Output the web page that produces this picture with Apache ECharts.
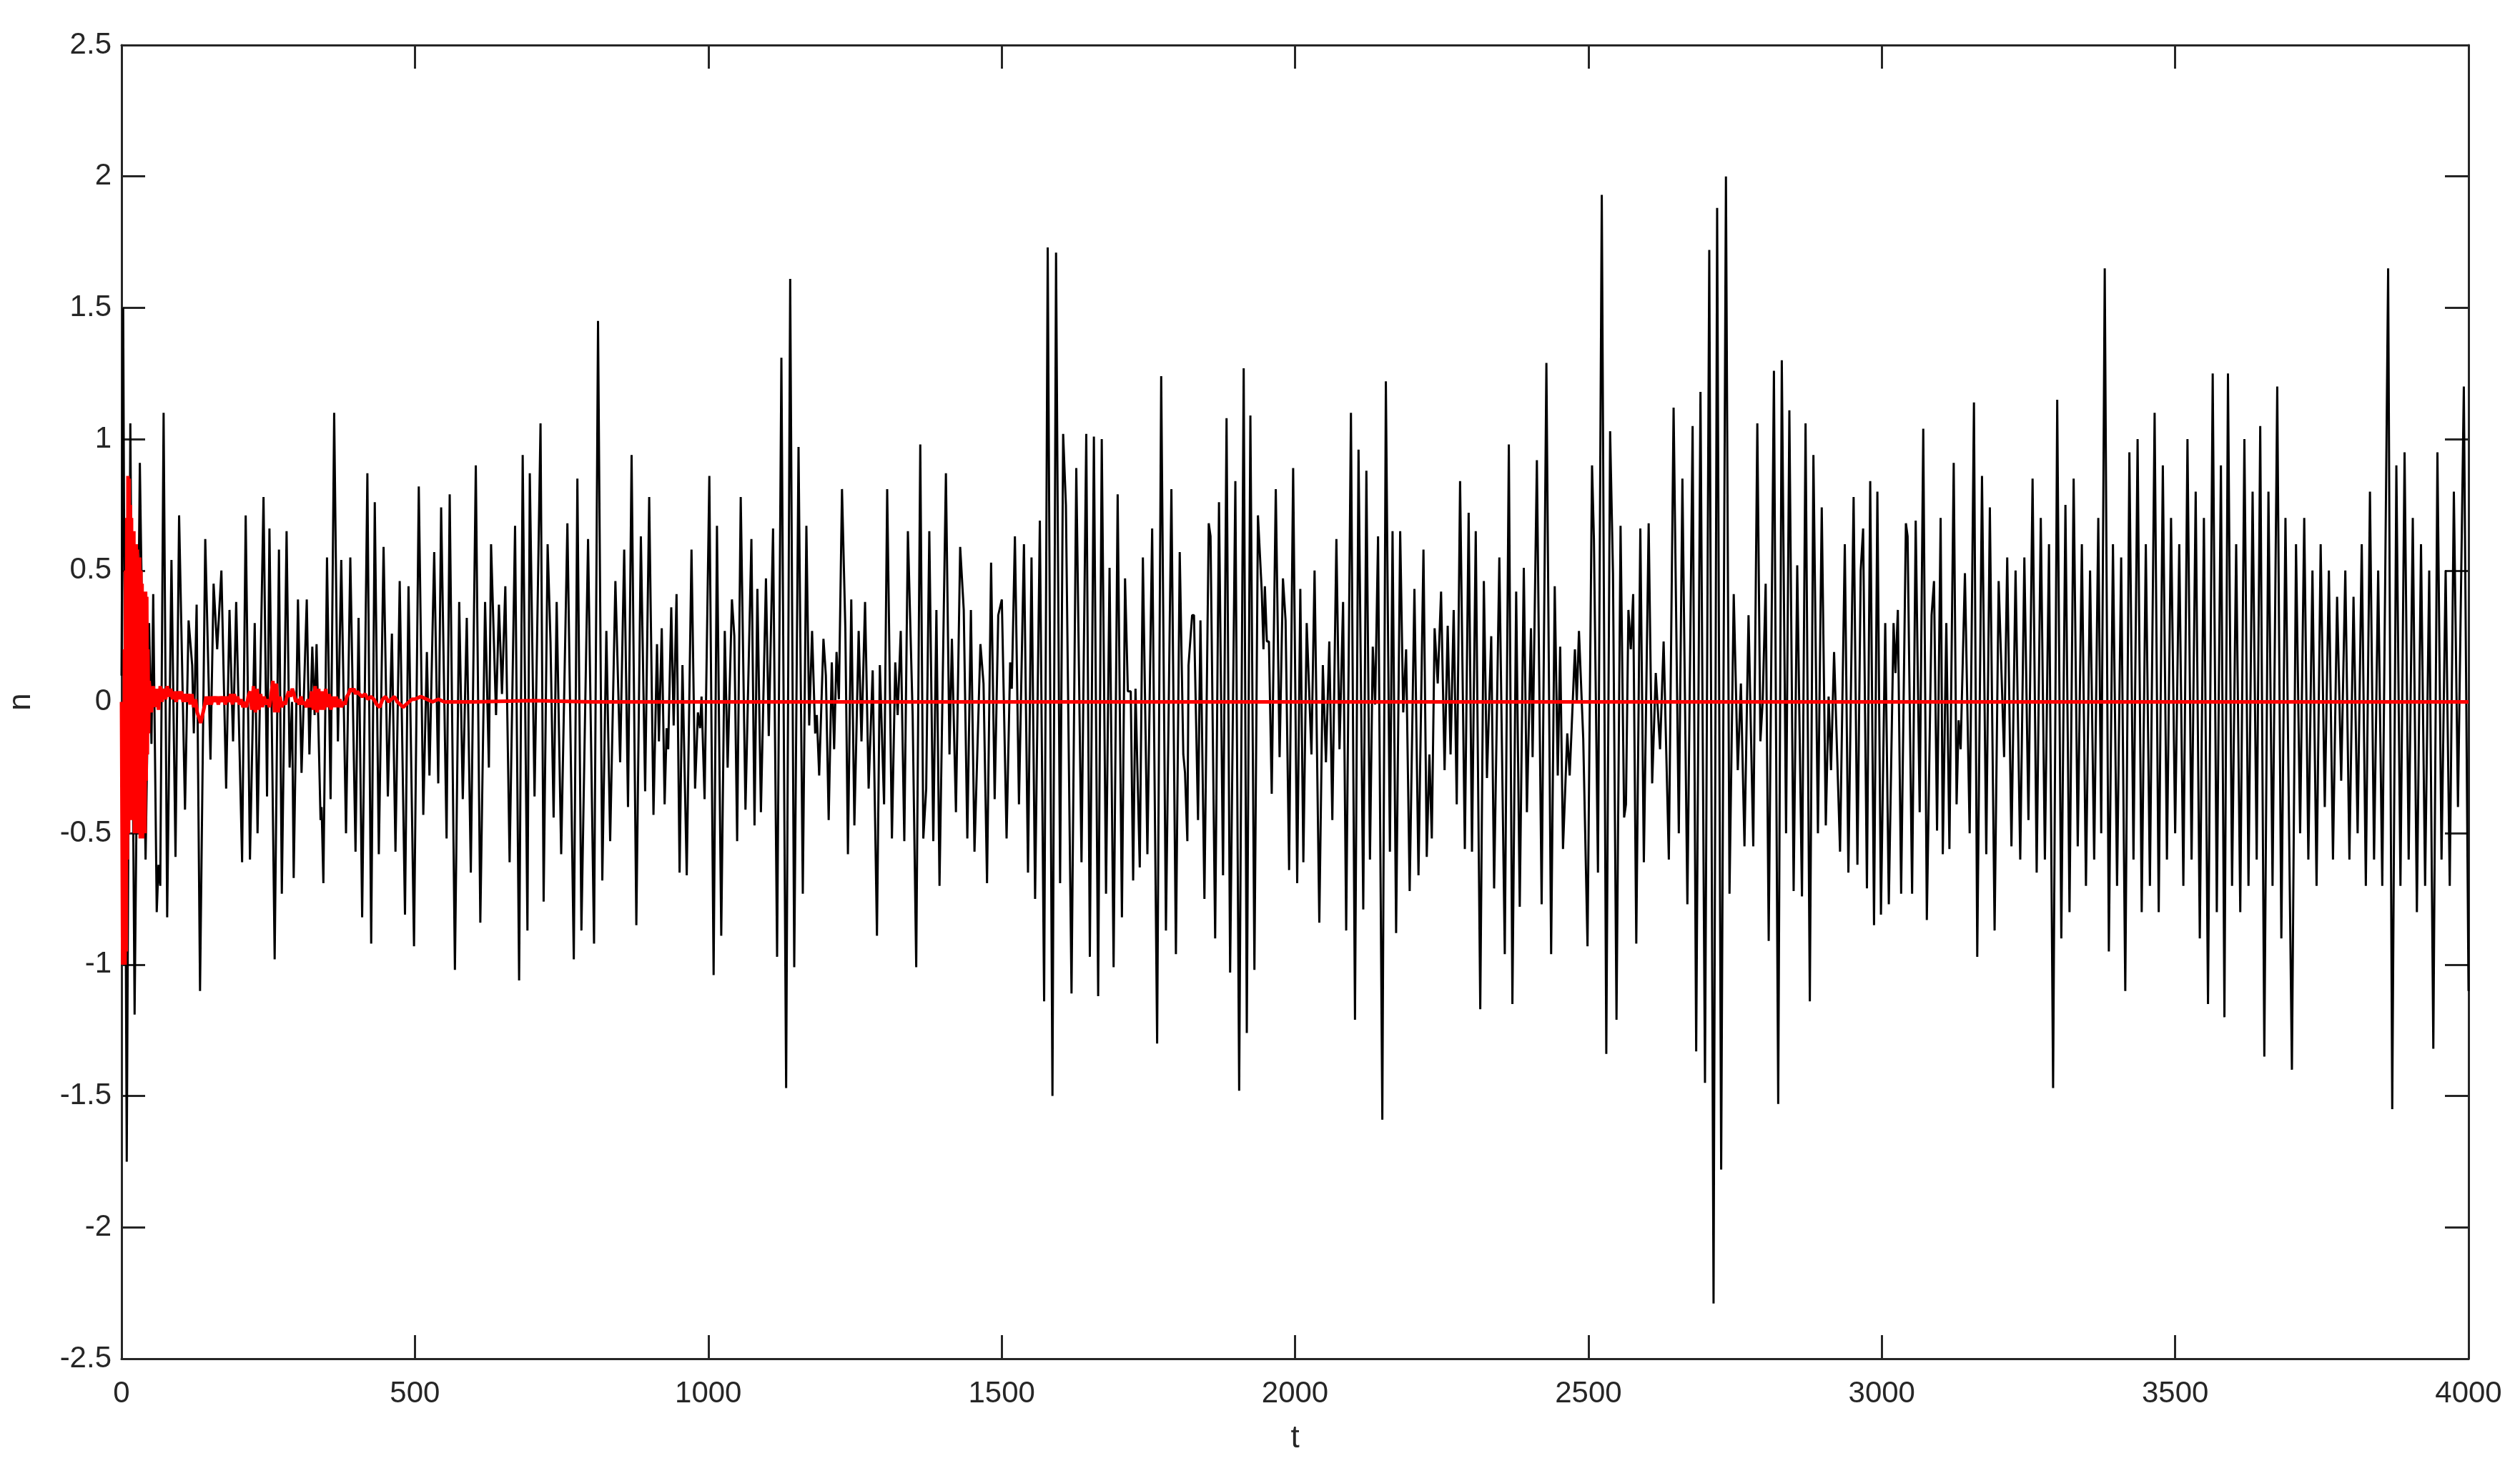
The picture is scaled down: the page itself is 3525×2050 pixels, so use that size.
<!DOCTYPE html>
<html><head><meta charset="utf-8">
<script src="https://cdn.jsdelivr.net/npm/echarts@6/dist/echarts.min.js"></script>
<style>html,body{margin:0;padding:0;background:#fff}#c{width:3525px;height:2050px}</style>
</head><body><div id="c"></div>
<script>
// Axis settings (values)
const xMin = 0, xMax = 4000, xStep = 500;
const yMin = -2.5, yMax = 2.5, yStep = 0.5;
const xName = 't', yName = 'n';

// Black series: extremes, [t, n]
const black0 = [[0,0.1],[2.8,1.5],[8.9,-1.75],[15,1.06],[22.3,-1.19],[31.2,0.91],[41,-0.6],[47,0.3],[51,-0.16],[54,0.41],[60,-0.8],[63,-0.62],[66,-0.7],[71.7,1.1],[77.8,-0.82],[85.1,0.54],[92,-0.59],[98.1,0.71],[108.2,-0.41],[114.3,0.31],[120.4,0.14],[123.2,-0.12],[128,0.37],[133.8,-1.1],[142.7,0.62],[151.6,-0.22],[156.9,0.45],[163,0.2],[170.2,0.5],[178.3,-0.33],[184,0.35],[190.1,-0.15],[195.4,0.38],[205.5,-0.61],[211.6,0.71],[218.9,-0.6],[227,0.3],[231.8,-0.5],[242,0.78],[248,-0.36],[252.1,0.66],[261,-0.98],[268.3,0.58],[273.2,-0.73],[281.3,0.65],[286.5,-0.25],[290.6,0.0],[293.4,-0.67],[300.7,0.39],[306.8,-0.27],[315.7,0.39],[320.2,-0.2],[325.1,0.21],[329.1,-0.05],[332.4,0.22],[339.2,-0.45],[341,-0.4],[344,-0.69],[350.2,0.55],[356.3,-0.37],[362.4,1.1],[368.8,-0.15],[374.5,0.54],[382.6,-0.5],[389.9,0.55],[398.8,-0.57]];
const black1 = [[404,0.32],[410.1,-0.82],[419,0.87],[425.5,-0.92],[431.6,0.76],[438.5,-0.58],[446.6,0.59],[453.9,-0.36],[460.8,0.26],[466.9,-0.57],[474.1,0.46],[483.1,-0.81],[489.1,0.44],[498.5,-0.93],[506.6,0.82],[514.3,-0.43],[520.4,0.19],[524.8,-0.28],[532.9,0.57],[539.8,-0.31],[544.7,0.74],[554,-0.52],[559.3,0.79],[568.2,-1.02],[575.5,0.38],[581.6,-0.37],[588.4,0.32],[595.3,-0.65],[603.8,0.9],[611.5,-0.84],[619.6,0.38],[626.1,-0.25],[629.8,0.6],[638.3,-0.05],[643.2,0.37],[648.4,0.03],[654.1,0.44],[661.4,-0.61],[670.7,0.67],[677.6,-1.06],[683.7,0.94],[691.8,-0.87],[695.8,0.87],[703.9,-0.36],[714.1,1.06],[719.4,-0.76],[726.2,0.6],[731.1,0.23],[736.4,-0.44],[741.6,0.38],[749.3,-0.58],[759.9,0.68],[770.8,-0.98],[776.9,0.85],[783.8,-0.87],[795.1,0.62],[805.3,-0.92]];
const black2 = [[812.1,1.45],[819.4,-0.68],[826.3,0.27],[832.8,-0.53],[841.7,0.46],[849.8,-0.23],[856.7,0.58],[863.2,-0.4],[869.3,0.94],[877.4,-0.85],[885.1,0.63],[892.4,-0.34],[899.3,0.78],[906.6,-0.43],[912.6,0.22],[915.9,-0.15],[920.7,0.28],[925.6,-0.39],[929,-0.1],[931.7,-0.18],[936.9,0.36],[941,-0.09],[945.9,0.41],[951.1,-0.65],[956,0.14],[963.3,-0.66],[971.4,0.58],[977.5,-0.33],[982.3,-0.04],[986,-0.1],[988.5,0.02],[993.7,-0.37],[1001.8,0.86],[1009.1,-1.04],[1014.8,0.67],[1022.1,-0.89],[1028.1,0.27],[1033,-0.25],[1040.3,0.39],[1044.4,0.25],[1049.2,-0.53],[1055.3,0.78],[1063.4,-0.41],[1073.5,0.62],[1078.8,-0.47],[1083.7,0.43],[1089.7,-0.42],[1092,-0.42],[1098.3,0.47],[1103.1,-0.13],[1110.4,0.66],[1117.3,-0.97],[1124.6,1.31],[1132.7,-1.47],[1139.6,1.61],[1146.5,-1.01],[1153.8,0.97],[1161.1,-0.73],[1167.2,0.67],[1172,-0.09],[1176.9,0.27],[1182.2,-0.12],[1185,-0.05],[1189,-0.28],[1196.3,0.24],[1200.4,0.1]];
const black3 = [[1205.2,-0.45],[1210.5,0.15],[1214.5,-0.18],[1218.6,0.19],[1222.6,0.01],[1227.9,0.81],[1233.6,0.28],[1238,-0.58],[1243.7,0.39],[1249,-0.47],[1256.3,0.27],[1261.1,-0.15],[1267.2,0.38],[1273.3,-0.33],[1280.2,0.12],[1287.5,-0.89],[1292.4,0.14],[1299.6,-0.39],[1304.9,0.81],[1313,-0.52],[1318.7,0.15],[1322.8,-0.05],[1328,0.27],[1334.1,-0.53],[1340.2,0.65],[1348.3,-0.05],[1354.4,-1.01],[1361.3,0.98],[1366.5,-0.52],[1371.4,-0.33],[1376.7,0.65],[1383.5,-0.53],[1388.8,0.35],[1394.1,-0.7],[1405,0.87],[1411.1,-0.2],[1415.2,0.24],[1422.1,-0.42],[1429.3,0.59],[1435.4,0.35],[1441.5,-0.52],[1447.6,0.35],[1453.7,-0.57],[1463.8,0.22],[1469.1,0.07],[1475.1,-0.69],[1482,0.53],[1488.1,-0.37],[1494.2,0.33],[1500.3,0.39],[1508.4,-0.52],[1514.5,0.15],[1517.3,0.05],[1522.6,0.63],[1529.5,-0.39],[1538,0.6],[1544.9,-0.65],[1550.9,0.55],[1557,-0.75],[1565.1,0.69],[1572.4,-1.14],[1578.5,1.73],[1586.6,-1.5],[1592.7,1.71],[1599.6,-0.69],[1604.8,1.02]];
const black4 = [[1609.5,0.75],[1619.1,-1.11],[1627.2,0.89],[1636.1,-0.61],[1644.2,1.02],[1650.3,-0.97],[1657.2,1.01],[1664.5,-1.12],[1670.6,1.0],[1677.9,-0.73],[1683.9,0.51],[1690.8,-1.01],[1697.7,0.79],[1705,-0.82],[1710.3,0.47],[1715.1,0.04],[1720,0.04],[1724.1,-0.68],[1728.1,0.05],[1735.4,-0.63],[1740.7,0.55],[1748.4,-0.58],[1756.5,0.66],[1765,-1.3],[1771.9,1.24],[1780,-0.87],[1789.3,0.81],[1797,-0.96],[1803.5,0.57],[1809.6,-0.2],[1812.5,-0.27],[1816.5,-0.53],[1818.5,0.14],[1824.6,0.33],[1827.8,0.33],[1834.7,-0.45],[1838.8,0.31],[1845.6,-0.75],[1852.9,0.68],[1856,0.63],[1863.9,-0.9],[1870.4,0.76],[1877.3,-0.66],[1883.3,1.08],[1889.4,-1.03],[1898.3,0.84],[1904.8,-1.48],[1912.5,1.27],[1917.8,-1.26],[1923.9,1.09],[1930.8,-1.02],[1936.8,0.71],[1943.3,0.42],[1946.2,0.2],[1948.6,0.44],[1952,0.23],[1955.5,0.23],[1960.3,-0.35],[1967.2,0.81],[1973.7,-0.21],[1979.4,0.47],[1983.9,0.31],[1989.9,-0.64],[1996.8,0.89],[2003.7,-0.69]];
const black5 = [[2009,0.43],[2014.2,-0.61],[2019.9,0.3],[2028,-0.2],[2033.3,0.5],[2041.4,-0.84],[2047.4,0.14],[2052.7,-0.23],[2058.4,0.23],[2063.6,-0.45],[2070.5,0.62],[2075.8,-0.18],[2081.9,0.38],[2087.2,-0.87],[2095.3,1.1],[2102.2,-1.21],[2108.2,0.96],[2116.3,-0.79],[2121.6,0.88],[2127.7,-0.6],[2132.5,0.21],[2136.6,-0.01],[2141.5,0.63],[2148.8,-1.59],[2154.8,1.22],[2161.7,-0.57],[2166.2,0.65],[2172.3,-0.88],[2179.2,0.65],[2184.4,-0.04],[2189.3,0.2],[2195.4,-0.72],[2203.5,0.43],[2210.4,-0.66],[2218.9,0.58],[2224.5,-0.59],[2229,-0.2],[2233.1,-0.52],[2237.9,0.28],[2243.2,0.07],[2248.9,0.42],[2254.9,-0.26],[2260.2,0.29],[2265.1,-0.2],[2270.4,0.35],[2275.6,-0.39],[2281.3,0.84],[2289.4,-0.56],[2295.9,0.72],[2301.6,-0.57],[2308,0.65],[2315.7,-1.17],[2321.8,0.46],[2327.1,-0.29],[2334.4,0.25],[2339.3,-0.71],[2348.2,0.55],[2357.5,-0.96],[2364.4,0.98],[2370.5,-1.15],[2376.9,0.42],[2383,-0.78],[2389.9,0.51],[2395.2,-0.42],[2402.1,0.28]];
const black6 = [[2404.9,-0.21],[2412.2,0.92],[2420.3,-0.77],[2428.4,1.29],[2436.5,-0.96],[2442.6,0.44],[2447.8,-0.28],[2451.9,0.21],[2456.7,-0.56],[2464,-0.12],[2468.1,-0.28],[2477,0.2],[2480.2,0.0],[2483.9,0.27],[2491.2,-0.14],[2498.5,-0.93],[2506.2,0.9],[2509.4,0.62],[2516.3,-0.65],[2522.8,1.93],[2530.5,-1.34],[2537,1.03],[2541.9,0.49],[2547.9,-1.21],[2554.8,0.67],[2560.9,-0.44],[2564,-0.39],[2568.2,0.35],[2572.3,0.2],[2576.3,0.41],[2581.6,-0.92],[2588.5,0.66],[2594.5,-0.61],[2602.7,0.68],[2608.7,-0.31],[2614.8,0.11],[2622.1,-0.18],[2628.2,0.23],[2637.1,-0.6],[2645.2,1.12],[2654.1,-0.5],[2660.2,0.85],[2668.7,-0.77],[2677.6,1.05],[2683.7,-1.33],[2691,1.18],[2698.7,-1.45],[2706,1.72],[2713.3,-2.29],[2719.4,1.88],[2726.3,-1.78],[2734.4,2.0],[2740.5,-0.73],[2747.7,0.41],[2754.6,-0.26],[2759.9,0.07],[2766,-0.55],[2772.9,0.33],[2781,-0.55],[2787.9,1.06],[2793.1,-0.15],[2797,0.0],[2802.1,0.45]];
const black7 = [[2807.3,-0.91],[2816.2,1.26],[2823.5,-1.53],[2829.6,1.3],[2836.9,-0.5],[2842.5,1.11],[2849.8,-0.72],[2855.9,0.52],[2864,-0.74],[2870.1,1.06],[2877.4,-1.14],[2883.5,0.94],[2891.2,-0.5],[2897.7,0.74],[2904.6,-0.47],[2909.4,0.02],[2913.5,-0.26],[2918.7,0.19],[2928.9,-0.57],[2937,0.6],[2943.1,-0.65],[2952,0.78],[2958.5,-0.62],[2964.1,0.5],[2968.2,0.66],[2974.7,-0.71],[2980.3,0.84],[2986.8,-0.85],[2992.5,0.8],[2998.6,-0.81],[3005.9,0.3],[3012,-0.77],[3020.1,0.3],[3023.3,0.11],[3027.4,0.35],[3033,-0.73],[3041.1,0.68],[3044,0.63],[3051.7,-0.73],[3057.8,0.69],[3064.6,-0.42],[3070.7,1.04],[3076.8,-0.83],[3084.9,0.33],[3089,0.46],[3094.2,-0.49],[3100.3,0.7],[3104,-0.58],[3110,0.3],[3115.3,-0.56],[3122.6,0.91],[3127.5,-0.39],[3131,-0.07],[3134.4,-0.18],[3141.7,0.49],[3149.8,-0.5],[3157.1,1.14],[3162.7,-0.97],[3170.8,0.86],[3178.1,-0.58],[3184.2,0.74],[3192.3,-0.87],[3199.2,0.46],[3208.5,-0.21],[3213.8,0.55]];
const black8 = [[3221,-0.55],[3228,0.5],[3236,-0.6],[3243,0.55],[3250,-0.45],[3257,0.85],[3264,-0.65],[3271,0.7],[3278,-0.6],[3285,0.6],[3292,-1.47],[3299,1.15],[3306,-0.9],[3313,0.75],[3320,-0.8],[3327,0.85],[3334,-0.55],[3341,0.6],[3348,-0.7],[3355,0.5],[3362,-0.6],[3369,0.7],[3374,-0.5],[3380,1.65],[3387,-0.95],[3394,0.6],[3401,-0.7],[3408,0.55],[3415,-1.1],[3422,0.95],[3429,-0.6],[3436,1.0],[3443,-0.8],[3450,0.6],[3457,-0.7],[3465,1.1],[3472,-0.8],[3479,0.9],[3486,-0.6],[3493,0.7],[3500,-0.5],[3507,0.6],[3514,-0.7],[3521,1.0],[3528,-0.6],[3535,0.8],[3542,-0.9],[3549,0.7],[3556,-1.15],[3564,1.25],[3571,-0.8],[3578,0.9],[3584,-1.2],[3590,1.25],[3597,-0.7],[3604,0.6],[3611,-0.8],[3618,1.0],[3625,-0.7],[3632,0.8],[3639,-0.6],[3645,1.05],[3652,-1.35],[3659,0.8],[3666,-0.7],[3674,1.2],[3681,-0.9],[3688,0.7],[3699,-1.4],[3706,0.6],[3713,-0.5],[3720,0.7],[3727,-0.6],[3734,0.5],[3741,-0.7],[3748,0.6],[3755,-0.4],[3762,0.5],[3769,-0.6],[3776,0.4],[3783,-0.3],[3790,0.5],[3797,-0.6],[3804,0.4],[3811,-0.5],[3818,0.6],[3825,-0.7],[3832,0.8],[3839,-0.6],[3846,0.5],[3853,-0.7],[3863,1.65],[3870,-1.55],[3877,0.9],[3884,-0.7],[3891,0.95],[3898,-0.6],[3905,0.7],[3912,-0.8],[3919,0.6],[3926,-0.7],[3933,0.5],[3940,-1.32],[3947,0.95],[3954,-0.6],[3961,0.5],[3968,-0.7],[3975,0.8],[3982,-0.4],[3992,1.2],[4000,-1.1]];

// Red series, [t, n]
const redStart = [[0,0],[1,-0.5],[2,-1],[3,-0.3],[4,-1],[5,0.2],[6,-1],[7,0.5],[8,-0.95],[9,0.7],[10,-0.6],[11,0.86],[12,-0.5],[13,0.85],[14,-0.45],[15,0.75],[16,-0.45],[17,0.7],[18,-0.45],[19,0.65],[20,-0.45],[21,0.65],[22,-0.5],[23,0.6],[24,-0.5],[25,0.6],[26,-0.5],[27,0.58],[28,-0.5],[29,0.55],[30,-0.5],[31,0.55],[32,-0.52],[33,0.5],[34,-0.52],[35,0.45],[36,-0.52],[37,0.42],[38,-0.5],[39,0.42],[40,-0.5],[41,0.42],[42,-0.3],[43,0.4],[44,-0.2],[45,0.2],[46,-0.12],[47,0.08]];
const redTail = [[48,0.05],[51,-0.04],[54,0.06],[57,-0.02],[60,0.05],[63,-0.03],[66,0.06],[69,0.0],[72,0.05],[75,0.01],[78,0.06],[81,0.02],[84,0.05],[87,0.01],[90,0.04],[93,0.0],[96,0.04],[99,0.01],[102,0.04],[105,0.0],[108,0.03],[111,0.0],[114,0.03],[117,-0.01],[120,0.03],[123,-0.02],[126,0.01],[129,-0.04],[132,-0.06],[135,-0.08],[138,-0.05],[141,-0.02],[144,0.02],[147,-0.01],[150,0.02],[153,-0.01],[156,0.02],[159,0.0],[162,0.02],[165,-0.01],[168,0.02],[171,0.0],[174,0.02],[177,-0.01],[180,0.02],[183,0.0],[186,0.03],[189,-0.01],[192,0.03],[195,0.0],[198,0.02],[201,-0.01],[204,0.01],[207,-0.02],[210,0.0],[213,-0.02],[216,0.02],[219,0.04],[222,-0.03],[225,0.06],[228,-0.04],[231,0.05],[234,-0.03],[237,0.03],[240,-0.02],[243,0.02],[246,-0.01],[249,0.01],[252,-0.02],[255,0.03],[258,0.08],[261,-0.04],[264,0.07],[267,-0.04],[270,0.02],[273,-0.02],[276,0.0],[279,-0.01],[282,0.02],[285,0.04],[288,0.02],[291,0.05],[294,0.03],[297,0.0],[300,0.01],[303,-0.01],[306,0.02],[309,-0.01],[312,0.0],[315,-0.02],[318,0.01],[321,-0.02],[324,0.04],[327,-0.03],[330,0.06],[333,-0.04],[336,0.05],[339,-0.03],[342,0.04],[345,-0.03],[348,0.05],[351,-0.02],[354,0.03],[357,-0.03],[360,0.02],[363,-0.02],[366,0.02],[369,-0.02],[372,0.01],[375,-0.02],[378,0.0],[381,-0.01],[384,0.02],[387,0.03],[390,0.05],[393,0.04],[396,0.05],[399,0.03],[402,0.04],[405,0.03],[410,0.02],[415,0.03],[420,0.01],[425,0.02],[430,0.01],[435,-0.01],[440,-0.02],[445,0.01],[450,0.02],[455,0.0],[460,0.01],[465,0.02],[470,0.0],[475,-0.01],[480,-0.02],[485,-0.01],[490,0.0],[495,0.01],[500,0.01],[510,0.02],[520,0.01],[530,0.0],[540,0.01],[550,0.0],[560,0.0],[600,0.0],[700,0.005],[800,0.0],[4000,0.0]];

const blackData = [].concat(black0, black1, black2, black3, black4, black5, black6, black7, black8);
const redData = [].concat(redStart, redTail);

const axisColor = '#262626';
const font = 'Liberation Sans, Arial, Helvetica, sans-serif';
const tickStyle = {show: true, inside: true, length: 33, lineStyle: {color: axisColor, width: 3}};
const lineStyle = {color: axisColor, width: 3};
const plainNumber = v => String(v);

const chart = echarts.init(document.getElementById('c'));
chart.setOption({
  animation: false,
  backgroundColor: '#ffffff',
  grid: {left: 166, right: 72, top: 63, bottom: 150, containLabel: false},
  xAxis: [{
    type: 'value', min: xMin, max: xMax, interval: xStep, position: 'bottom',
    name: xName, nameLocation: 'middle', nameGap: 90,
    nameTextStyle: {fontSize: 44, color: axisColor, fontFamily: font},
    axisLine: {show: true, onZero: false, lineStyle: lineStyle},
    axisTick: tickStyle,
    axisLabel: {fontSize: 42, color: axisColor, fontFamily: font, margin: 28, formatter: plainNumber},
    splitLine: {show: false}
  }, {
    type: 'value', min: xMin, max: xMax, interval: xStep, position: 'top',
    axisLine: {show: true, onZero: false, lineStyle: lineStyle},
    axisTick: tickStyle, axisLabel: {show: false}, splitLine: {show: false}
  }],
  yAxis: [{
    type: 'value', min: yMin, max: yMax, interval: yStep, position: 'left',
    name: yName, nameLocation: 'middle', nameGap: 118, nameRotate: 90,
    nameTextStyle: {fontSize: 44, color: axisColor, fontFamily: font},
    axisLine: {show: true, onZero: false, lineStyle: lineStyle},
    axisTick: tickStyle,
    axisLabel: {fontSize: 42, color: axisColor, fontFamily: font, margin: 14, formatter: plainNumber},
    splitLine: {show: false}
  }, {
    type: 'value', min: yMin, max: yMax, interval: yStep, position: 'right',
    axisLine: {show: true, onZero: false, lineStyle: lineStyle},
    axisTick: tickStyle, axisLabel: {show: false}, splitLine: {show: false}
  }],
  series: [{
    type: 'line', data: blackData, xAxisIndex: 0, yAxisIndex: 0,
    showSymbol: false, symbol: 'none', clip: true,
    lineStyle: {color: '#000000', width: 3}, z: 2
  }, {
    type: 'line', data: redData, xAxisIndex: 0, yAxisIndex: 0,
    showSymbol: false, symbol: 'none', clip: true,
    lineStyle: {color: '#ff0000', width: 5}, z: 3
  }]
});
</script></body></html>
